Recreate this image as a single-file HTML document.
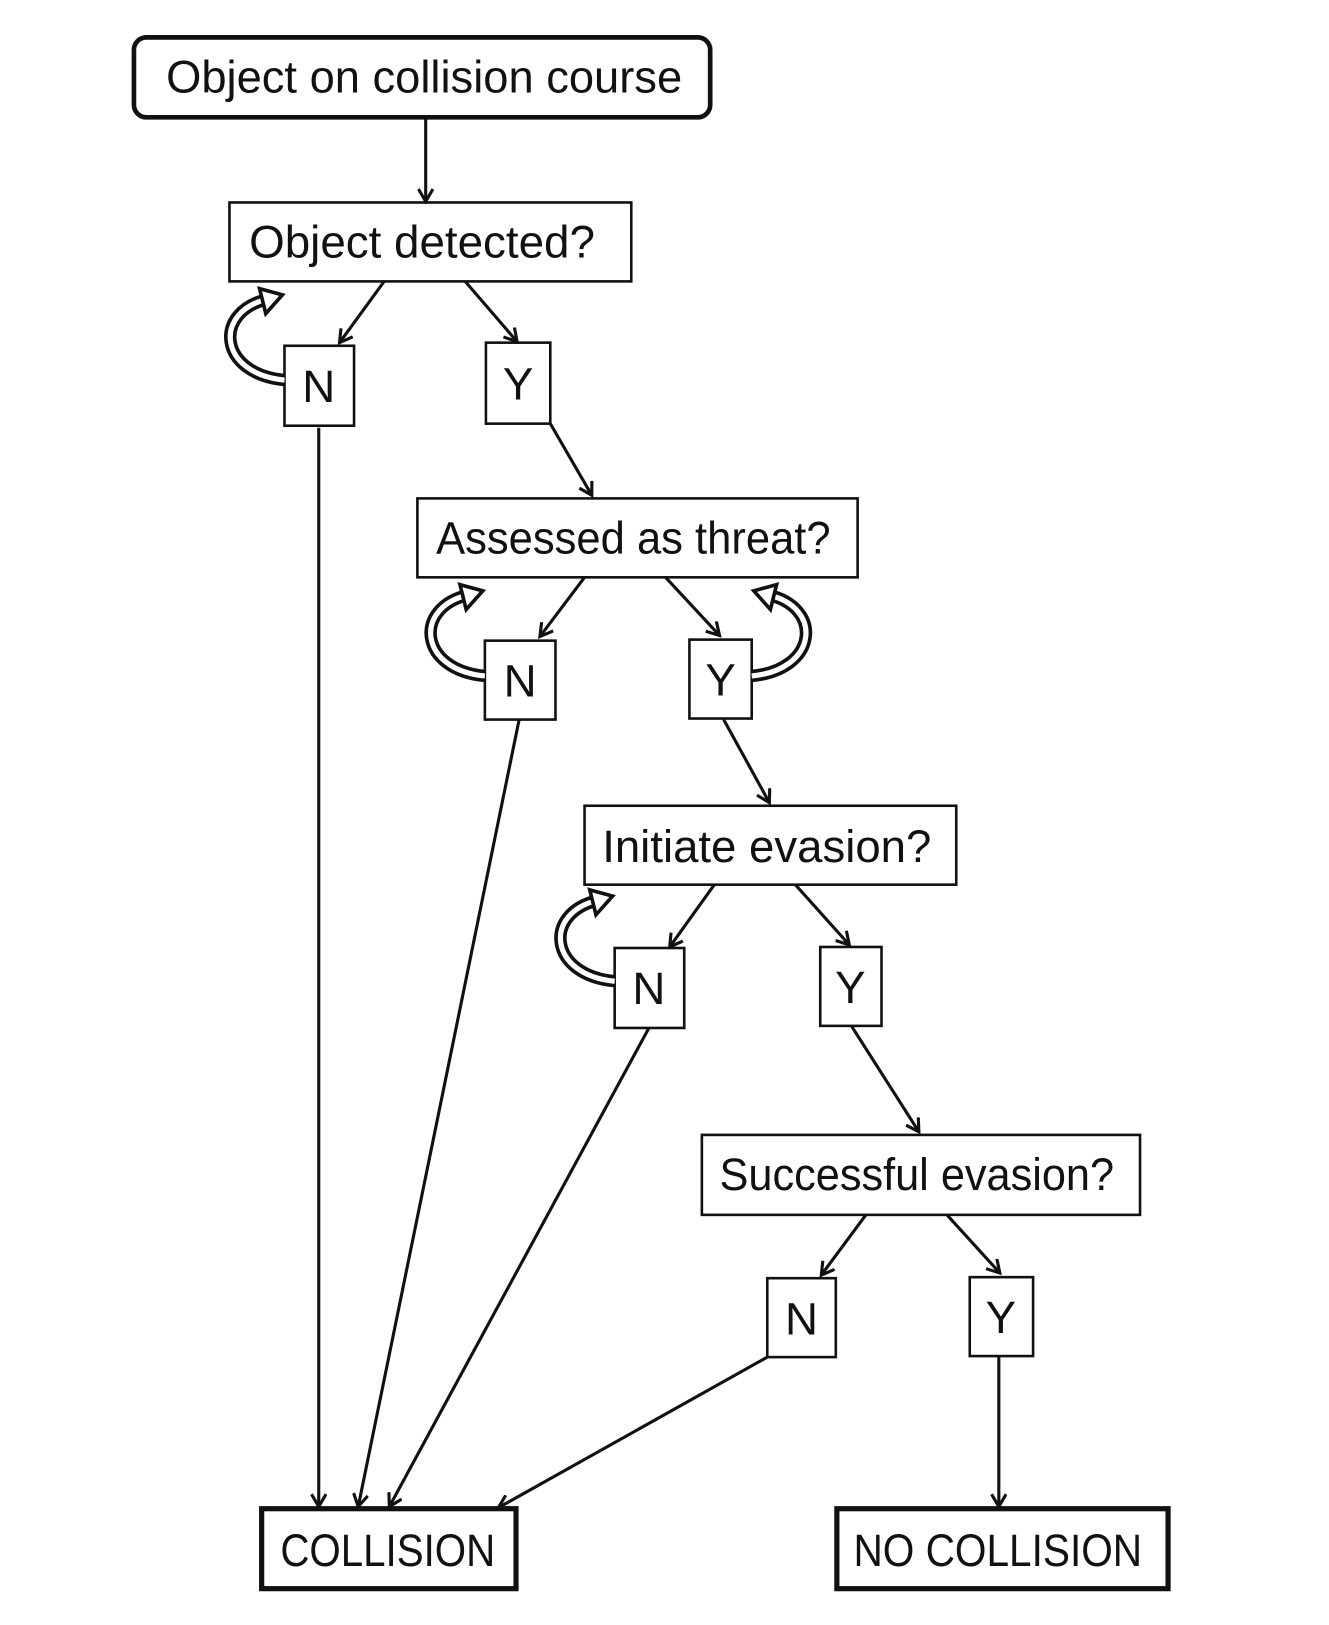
<!DOCTYPE html>
<html><head><meta charset="utf-8"><style>
html,body{margin:0;padding:0;background:#fff;}
svg{display:block;}
text{font-family:"Liberation Sans",sans-serif;fill:#111;}
</style></head><body>
<svg width="1329" height="1625" viewBox="0 0 1280 1565" preserveAspectRatio="none" xmlns="http://www.w3.org/2000/svg">
<defs>
<marker id="a" markerWidth="16" markerHeight="16" refX="13" refY="8" orient="auto" markerUnits="userSpaceOnUse">
<path d="M1,1 L13,8 L1,15" fill="none" stroke="#111" stroke-width="3"/>
</marker>
</defs>
<g fill="#fff" stroke="#111">
<rect x="129" y="36" width="555" height="77" rx="12" stroke-width="4.5"/>
<rect x="221" y="195" width="387" height="76" stroke-width="2.5"/>
<rect x="274" y="333" width="67" height="77" stroke-width="2.5"/>
<rect x="468" y="330" width="62" height="78" stroke-width="2.5"/>
<rect x="402" y="480" width="424" height="76" stroke-width="2.5"/>
<rect x="467" y="617" width="68" height="76" stroke-width="2.5"/>
<rect x="664" y="616" width="60" height="76" stroke-width="2.5"/>
<rect x="563" y="776" width="358" height="76" stroke-width="2.5"/>
<rect x="592" y="913" width="67" height="77" stroke-width="2.5"/>
<rect x="790" y="912" width="59" height="76" stroke-width="2.5"/>
<rect x="676" y="1093" width="422" height="77" stroke-width="2.5"/>
<rect x="739" y="1231" width="66" height="76" stroke-width="2.5"/>
<rect x="934" y="1230" width="61" height="76" stroke-width="2.5"/>
<rect x="252" y="1453" width="245" height="77" stroke-width="5"/>
<rect x="806" y="1453" width="319" height="77" stroke-width="5"/>
</g>
<g stroke="#111" stroke-width="3" fill="none" marker-end="url(#a)">
<line x1="410" y1="113" x2="410" y2="194"/>
<line x1="370" y1="271" x2="327" y2="330"/>
<line x1="448" y1="271" x2="498" y2="329"/>
<line x1="307" y1="412" x2="307" y2="1451"/>
<line x1="530" y1="408" x2="570" y2="477"/>
<line x1="563" y1="556" x2="520" y2="613"/>
<line x1="641" y1="556" x2="693" y2="612"/>
<line x1="500" y1="693" x2="345" y2="1451"/>
<line x1="697" y1="693" x2="741" y2="773"/>
<line x1="688" y1="852" x2="645" y2="912"/>
<line x1="766" y1="852" x2="818" y2="910"/>
<line x1="625" y1="990" x2="375" y2="1451"/>
<line x1="820" y1="988" x2="885" y2="1090"/>
<line x1="834" y1="1170" x2="791" y2="1228"/>
<line x1="912" y1="1170" x2="963" y2="1226"/>
<line x1="739" y1="1307" x2="480" y2="1452"/>
<line x1="962" y1="1306" x2="962" y2="1451"/>
</g>
<g>
<path d="M274,366 C210,360 205,300 258,288" fill="none" stroke="#111" stroke-width="12"/>
<path d="M274,366 C210,360 205,300 258,288" fill="none" stroke="#fff" stroke-width="5"/>
<polygon points="250,278 272,284 256,302" fill="#fff" stroke="#111" stroke-width="3.5"/>

<path d="M467,651 C403,645 398,585 451,573" fill="none" stroke="#111" stroke-width="12"/>
<path d="M467,651 C403,645 398,585 451,573" fill="none" stroke="#fff" stroke-width="5"/>
<polygon points="443,563 465,569 449,587" fill="#fff" stroke="#111" stroke-width="3.5"/>

<path d="M724,651 C788,645 793,585 740,573" fill="none" stroke="#111" stroke-width="12"/>
<path d="M724,651 C788,645 793,585 740,573" fill="none" stroke="#fff" stroke-width="5"/>
<polygon points="748,563 726,569 742,587" fill="#fff" stroke="#111" stroke-width="3.5"/>

<path d="M592,945 C528,939 523,879 576,867" fill="none" stroke="#111" stroke-width="12"/>
<path d="M592,945 C528,939 523,879 576,867" fill="none" stroke="#fff" stroke-width="5"/>
<polygon points="568,857 590,863 574,881" fill="#fff" stroke="#111" stroke-width="3.5"/>
</g>
<g font-size="44">
<text x="160" y="89" textLength="497" lengthAdjust="spacingAndGlyphs">Object on collision course</text>
<text x="240" y="248" textLength="333" lengthAdjust="spacingAndGlyphs">Object detected?</text>
<text x="420" y="533" textLength="380" lengthAdjust="spacingAndGlyphs">Assessed as threat?</text>
<text x="580" y="830" textLength="317" lengthAdjust="spacingAndGlyphs">Initiate evasion?</text>
<text x="693" y="1146" textLength="380" lengthAdjust="spacingAndGlyphs">Successful evasion?</text>
<text x="270" y="1508" textLength="207" lengthAdjust="spacingAndGlyphs">COLLISION</text>
<text x="822" y="1508" textLength="278" lengthAdjust="spacingAndGlyphs">NO COLLISION</text>
<text x="307" y="387" text-anchor="middle">N</text>
<text x="499" y="385" text-anchor="middle">Y</text>
<text x="501" y="671" text-anchor="middle">N</text>
<text x="694" y="670" text-anchor="middle">Y</text>
<text x="625" y="967" text-anchor="middle">N</text>
<text x="819" y="966" text-anchor="middle">Y</text>
<text x="772" y="1285" text-anchor="middle">N</text>
<text x="964" y="1284" text-anchor="middle">Y</text>
</g>
</svg>
</body></html>
